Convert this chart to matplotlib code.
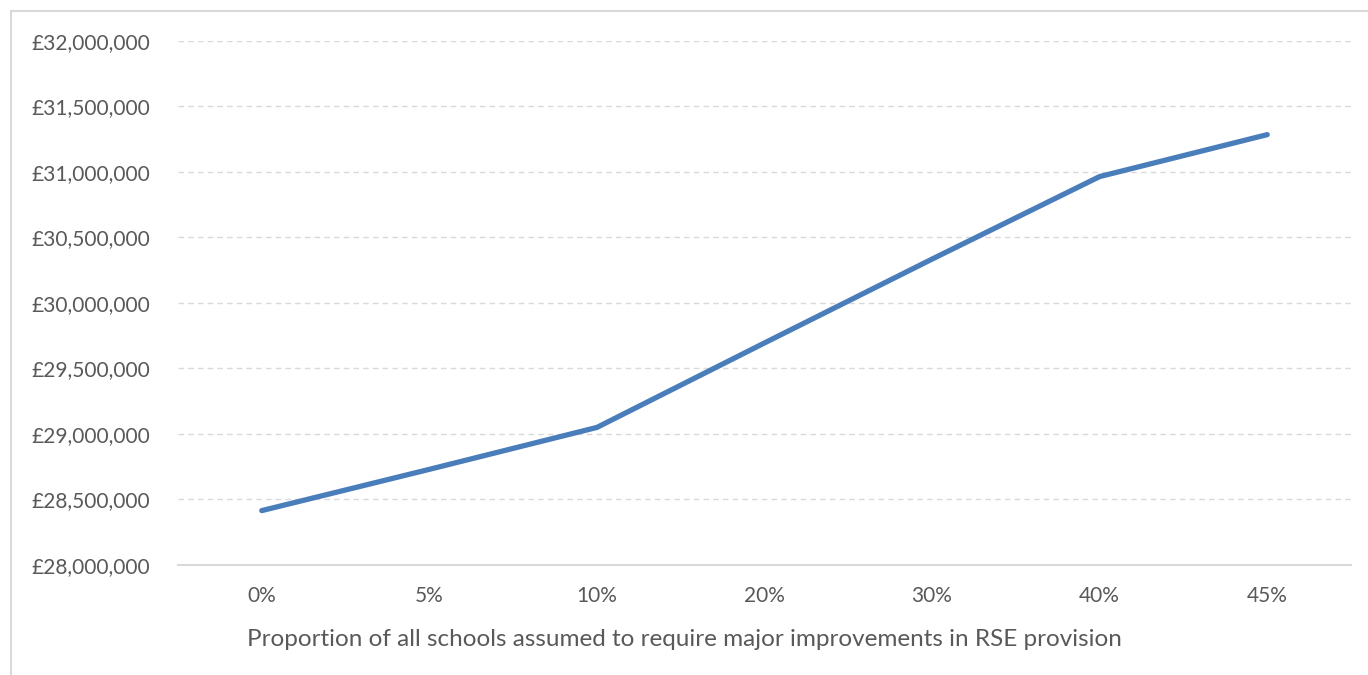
import matplotlib
matplotlib.use("Agg")
from matplotlib import pyplot as plt
from matplotlib.patches import Rectangle
from matplotlib.ticker import FuncFormatter

# data
proportions = ["0%", "5%", "10%", "20%", "30%", "40%", "45%"]
costs = [28415000, 28730000, 29050000, 29695000, 30335000, 30965000, 31285000]
y_ticks = [28000000, 28500000, 29000000, 29500000, 30000000, 30500000, 31000000, 31500000, 32000000]

TEXT = "#595959"
GRID = "#d9d9d9"
LINE = "#4a7ebb"

plt.rcParams["font.family"] = ["Lato", "DejaVu Sans"]

fig = plt.figure(figsize=(13.68, 6.75), dpi=100)
ax = fig.add_axes([0.1301, 0.163, 0.8575, 0.7763])

x = list(range(len(proportions)))
ax.plot(x, costs, color=LINE, linewidth=3.8, solid_capstyle="round", solid_joinstyle="round")

ax.set_xlim(-0.5, len(proportions) - 0.5)
ax.set_ylim(y_ticks[0], y_ticks[-1])
ax.set_yticks(y_ticks)
ax.yaxis.set_major_formatter(FuncFormatter(lambda v, pos: "£{:,.0f}".format(v)))
ax.set_xticks(x)
ax.set_xticklabels(proportions)

ax.grid(axis="y", color=GRID, linestyle=(0, (4, 3)), linewidth=1)
ax.set_axisbelow(True)
for side in ["top", "right", "left"]:
    ax.spines[side].set_visible(False)
ax.spines["bottom"].set_color(GRID)
ax.spines["bottom"].set_linewidth(1.5)
ax.spines["bottom"].set_zorder(0)

ax.tick_params(axis="both", length=0, colors=TEXT, labelsize=15)
ax.tick_params(axis="y", pad=20)
ax.tick_params(axis="x", pad=15)

# axis title is centred on the whole chart, not the plot area
fig.text(0.5, 1 - 640 / 675,
         "Proportion of all schools assumed to require major improvements in RSE provision",
         color=TEXT, fontsize=17.5, ha="center", va="center")

# chart frame (cut off at right and bottom)
fig.patches.append(Rectangle((11 / 1368, -0.1), 1.2, (675 - 11) / 675 + 0.1,
                             transform=fig.transFigure, fill=False,
                             edgecolor=GRID, linewidth=1.5))

fig.savefig("out.png", dpi=100)
